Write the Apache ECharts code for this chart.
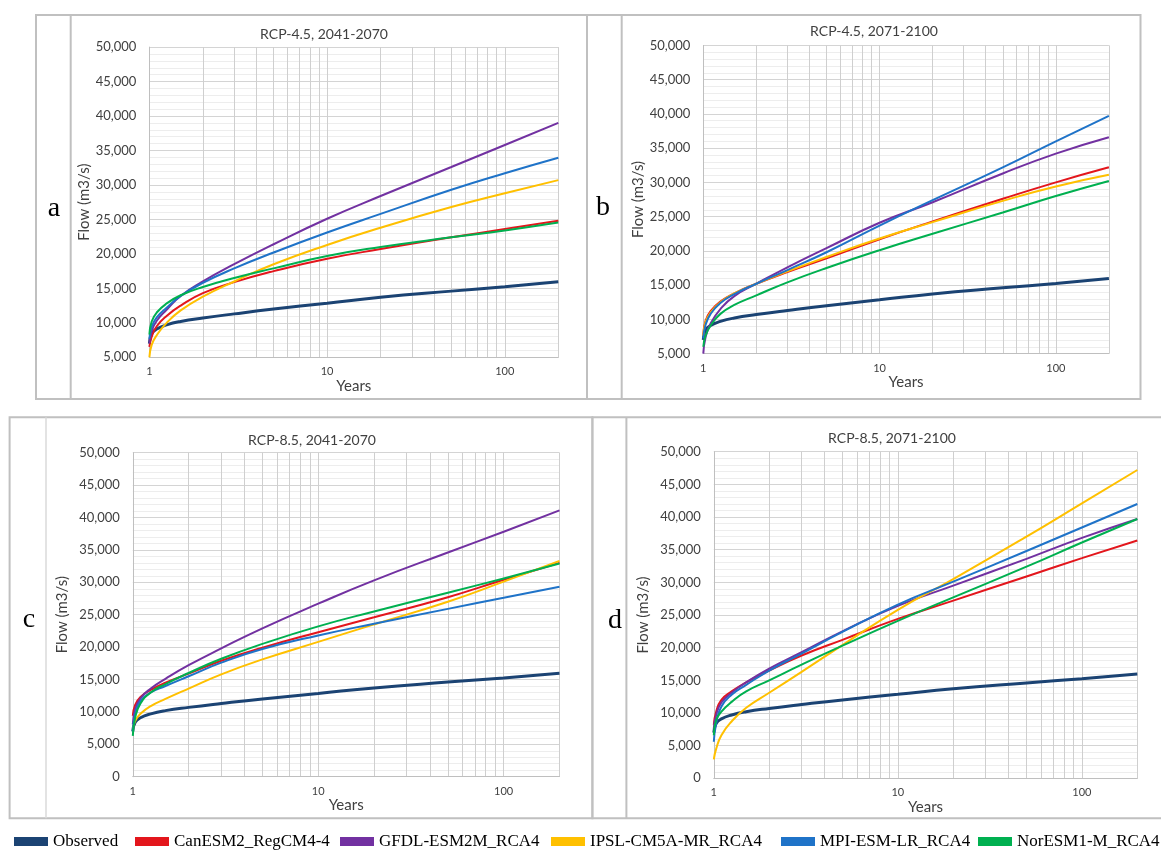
<!DOCTYPE html>
<html>
<head>
<meta charset="utf-8">
<script src="https://cdn.jsdelivr.net/npm/echarts@6/dist/echarts.min.js"></script>
<style>
  html, body { margin: 0; padding: 0; background: #ffffff; }
  #chart { width: 1161px; height: 857px; }
</style>
</head>
<body>
<div id="chart"></div>
<script>
// Return periods (years) at which flows are tabulated
const returnPeriods = [1, 1.03, 1.1, 1.25, 1.5, 2, 3, 5, 10, 20, 50, 100, 200];

const seriesNames = ['Observed', 'CanESM2_RegCM4-4', 'GFDL-ESM2M_RCA4', 'IPSL-CM5A-MR_RCA4', 'MPI-ESM-LR_RCA4', 'NorESM1-M_RCA4'];
const panelTitles = ['RCP-4.5, 2041-2070', 'RCP-4.5, 2071-2100', 'RCP-8.5, 2041-2070', 'RCP-8.5, 2071-2100'];
const panelLetters = ['a', 'b', 'c', 'd'];
const xLabelValues = [1, 10, 100];
const xGridValues = [1, 2, 3, 4, 5, 6, 7, 8, 9, 10, 20, 30, 40, 50, 60, 70, 80, 90, 100, 200];
const yMinByPanel = [5000, 5000, 0, 0];

// Observed flood frequency curve (m3/s), same in every panel
const observed = [7000, 8400, 9100, 9700, 10200, 10700, 11300, 12000, 12850, 13700, 14600, 15250, 15950];

// a: RCP-4.5, 2041-2070
const canesm2A = [6500, 8000, 9500, 11000, 12500, 14300, 15900, 17500, 19300, 20700, 22400, 23600, 24800];
const gfdlA    = [7000, 8800, 10300, 11900, 13900, 16000, 18500, 21400, 25100, 28400, 32600, 35800, 39000];
const ipslA    = [5000, 6800, 8200, 10000, 11800, 13800, 16000, 18500, 21300, 23800, 26800, 28800, 30700];
const mpiA     = [7700, 9400, 10800, 12200, 13900, 15800, 17900, 20200, 23100, 25800, 29300, 31700, 33950];
const noresmA  = [8300, 10200, 11500, 12800, 14000, 15200, 16500, 17900, 19700, 21000, 22400, 23400, 24550];

// b: RCP-4.5, 2071-2100
const canesm2B = [7800, 9800, 11200, 12600, 13800, 15200, 16900, 18900, 21700, 24300, 27600, 30000, 32200];
const gfdlB    = [5000, 7400, 9400, 11500, 13400, 15200, 17600, 20400, 24100, 27100, 31300, 34200, 36600];
const ipslB    = [7600, 9600, 11000, 12500, 13800, 15200, 17000, 19100, 21800, 24200, 27300, 29400, 31100];
const mpiB     = [7200, 9200, 10800, 12400, 13700, 15200, 17200, 19800, 23700, 27400, 32200, 36000, 39700];
const noresmB  = [6000, 7600, 9100, 10800, 12100, 13500, 15400, 17500, 20100, 22500, 25600, 28000, 30200];

// c: RCP-8.5, 2041-2070
const canesm2C = [9400, 11100, 12300, 13400, 14500, 15900, 17900, 19900, 22300, 24600, 27700, 30400, 33000];
const gfdlC    = [8100, 10400, 12100, 13600, 15100, 17200, 19800, 22900, 26700, 30300, 34600, 37800, 41100];
const ipslC    = [7400, 8600, 9700, 10900, 12000, 13600, 15800, 18100, 20800, 23500, 27000, 30100, 33300];
const mpiC     = [7000, 9600, 11700, 13000, 14000, 15500, 17600, 19700, 21800, 23600, 25900, 27600, 29300];
const noresmC  = [6300, 9100, 11300, 13000, 14300, 16000, 18200, 20500, 23200, 25500, 28400, 30600, 32900];

// d: RCP-8.5, 2071-2100
const canesm2D = [8200, 10200, 12000, 13300, 14700, 16500, 18800, 21200, 24400, 27200, 30900, 33700, 36400];
const gfdlD    = [7600, 9700, 11600, 13100, 14700, 16800, 19300, 22500, 26400, 29500, 33600, 36800, 39700];
const ipslD    = [2900, 4500, 6600, 8700, 10800, 13100, 16300, 20400, 25800, 30500, 37000, 42100, 47200];
const mpiD     = [5600, 8400, 11000, 12800, 14300, 16500, 19100, 22400, 26600, 30100, 34800, 38400, 42000];
const noresmD  = [6600, 8900, 10200, 11700, 13300, 15000, 17400, 20300, 24100, 27700, 32400, 36100, 39700];

const panelData = [
  [observed, canesm2A, gfdlA, ipslA, mpiA, noresmA],
  [observed, canesm2B, gfdlB, ipslB, mpiB, noresmB],
  [observed, canesm2C, gfdlC, ipslC, mpiC, noresmC],
  [observed, canesm2D, gfdlD, ipslD, mpiD, noresmD]
];

const seriesColors = ['#1b4373', '#e3161c', '#7231a1', '#ffc000', '#1f73c8', '#00b050'];
const seriesWidths = [3, 2, 2, 2, 2, 2];

const uiFont = 'Lato';
const textColor = '#404040';

// Plot-area rectangles of the four panels
const grids = [
  { left: 149.4, top: 47.1, width: 408.9, height: 310.2 },
  { left: 703.3, top: 45.4, width: 405.6, height: 308.2 },
  { left: 132.8, top: 452.7, width: 426.7, height: 324.0 },
  { left: 713.8, top: 451.7, width: 423.5, height: 326.6 }
];
const yNameGaps = [54, 58, 63, 63];
const titlePos = [[324, 27], [874, 24], [312, 433], [892, 431]];
const letterPos = [[54, 209], [603, 208], [29, 620], [615, 621]];

const xAxes = grids.map((g, i) => ({
  type: 'log', logBase: 10, min: 1, max: 200, gridIndex: i,
  name: 'Years', nameLocation: 'middle', nameGap: 19,
  nameTextStyle: { fontFamily: uiFont, fontSize: 15, color: textColor },
  axisLine: { show: true, lineStyle: { color: '#bfbfbf', width: 1 } },
  axisTick: { show: false, customValues: xGridValues },
  axisLabel: { customValues: xLabelValues, fontFamily: uiFont, fontSize: 11, color: textColor, margin: 9,
               formatter: v => String(Math.round(v)) },
  splitLine: { show: true, lineStyle: { color: '#cfcfcf', width: 1 } }
}));

const yAxes = grids.map((g, i) => ({
  type: 'value', min: yMinByPanel[i], max: 50000, interval: 5000, gridIndex: i,
  name: 'Flow (m3/s)', nameLocation: 'middle', nameGap: yNameGaps[i],
  nameTextStyle: { fontFamily: uiFont, fontSize: 15, color: textColor },
  axisLine: { show: true, lineStyle: { color: '#bfbfbf', width: 1 } },
  axisTick: { show: false },
  axisLabel: { fontFamily: uiFont, fontSize: 13, color: textColor, margin: 13,
               formatter: v => v.toLocaleString('en-US') },
  splitLine: { show: true, lineStyle: { color: '#d4d4d4', width: 1 } },
  minorTick: { show: false, splitNumber: 5 },
  minorSplitLine: { show: true, lineStyle: { color: '#ededed', width: 1 } }
}));

const series = [];
panelData.forEach((curves, p) => {
  curves.forEach((values, k) => {
    series.push({
      type: 'line', name: seriesNames[k], xAxisIndex: p, yAxisIndex: p,
      data: returnPeriods.map((t, j) => [t, values[j]]),
      showSymbol: false, smooth: 0.5,
      color: seriesColors[k],
      lineStyle: { width: seriesWidths[k], color: seriesColors[k] },
      emphasis: { disabled: true }, z: 3
    });
  });
});

const titles = panelTitles.map((t, i) => ({
  text: t, left: titlePos[i][0], top: titlePos[i][1], textAlign: 'center', padding: 0,
  textStyle: { fontFamily: uiFont, fontSize: 14, fontWeight: 'normal', color: textColor }
}));

// One legend block per entry along the bottom row
const legendLeft = [14, 135, 340, 551, 781, 978];
const legends = seriesNames.map((n, i) => ({
  data: [n], left: legendLeft[i], top: 833, icon: 'rect', itemWidth: 34, itemHeight: 9,
  selectedMode: false, padding: 0,
  textStyle: { fontFamily: 'Liberation Serif', fontSize: 17, color: '#000000' }
}));

const border = '#c0c0c0';
const graphics = [
  { type: 'rect', shape: { x: 36, y: 15, width: 551, height: 384 }, style: { fill: 'none', stroke: border, lineWidth: 2 } },
  { type: 'line', shape: { x1: 70.7, y1: 15, x2: 70.7, y2: 399 }, style: { stroke: border, lineWidth: 2 } },
  { type: 'rect', shape: { x: 587, y: 15, width: 553.5, height: 384 }, style: { fill: 'none', stroke: border, lineWidth: 2 } },
  { type: 'line', shape: { x1: 621.7, y1: 15, x2: 621.7, y2: 399 }, style: { stroke: border, lineWidth: 2 } },
  { type: 'rect', shape: { x: 9.6, y: 417.3, width: 582.8, height: 401 }, style: { fill: 'none', stroke: border, lineWidth: 2 } },
  { type: 'line', shape: { x1: 46, y1: 417.3, x2: 46, y2: 818.3 }, style: { stroke: '#dadada', lineWidth: 1.5 } },
  { type: 'rect', shape: { x: 592.4, y: 417.3, width: 580, height: 401 }, style: { fill: 'none', stroke: border, lineWidth: 2 } },
  { type: 'line', shape: { x1: 626.4, y1: 417.3, x2: 626.4, y2: 818.3 }, style: { stroke: border, lineWidth: 2 } }
];
panelLetters.forEach((l, i) => {
  graphics.push({
    type: 'text', x: letterPos[i][0], y: letterPos[i][1],
    style: { text: l, fontFamily: 'Liberation Serif', fontSize: 28, fill: '#000000',
             textAlign: 'center', textVerticalAlign: 'middle' }
  });
});

const chart = echarts.init(document.getElementById('chart'), null, { renderer: 'canvas' });
chart.setOption({
  backgroundColor: '#ffffff',
  animation: false,
  title: titles,
  legend: legends,
  grid: grids.map(g => Object.assign({ containLabel: false }, g)),
  xAxis: xAxes,
  yAxis: yAxes,
  series: series,
  graphic: graphics
});
</script>
</body>
</html>
